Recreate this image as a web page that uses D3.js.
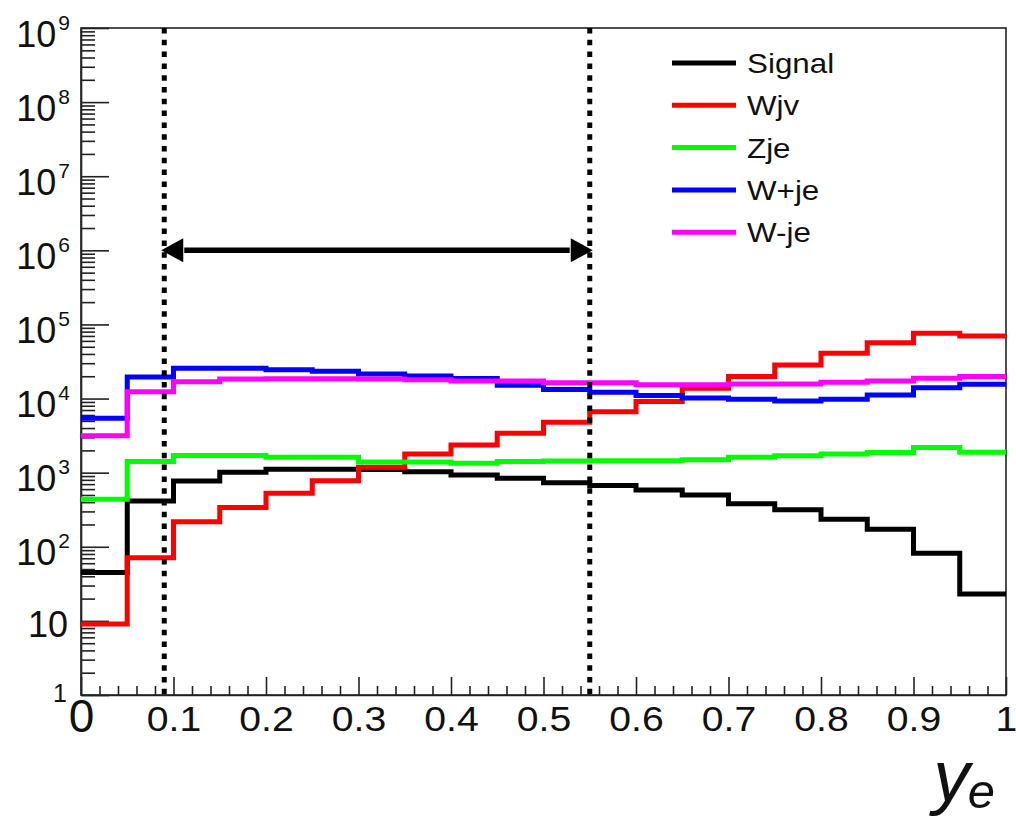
<!DOCTYPE html>
<html>
<head>
<meta charset="utf-8">
<script src="https://cdn.jsdelivr.net/npm/d3@7"></script>
<style>
  html, body { margin: 0; padding: 0; background: #fff; }
  svg { display: block; font-family: "Liberation Sans", Arial, sans-serif; }
</style>
</head>
<body>
<svg id="chart" width="1016" height="820"></svg>
<script>
// Binning of the electron rapidity-like variable y_e: 20 bins between 0 and 1
const xMin = 0, xMax = 1, binWidth = 0.05, nBins = 20;

// Event counts per bin for each sample
const signal = [45, 415, 770, 1010, 1110, 1110, 1100, 1030, 930, 840, 730, 670, 585, 500, 380, 315, 235, 172, 82, 23];
const wjv    = [9.1, 71, 218, 340, 528, 780, 1180, 1780, 2370, 3400, 4800, 6650, 9100, 13800, 19800, 28400, 40800, 56800, 76000, 70000];
const zje    = [438, 1410, 1700, 1700, 1610, 1610, 1395, 1395, 1340, 1420, 1440, 1450, 1450, 1490, 1620, 1697, 1790, 1870, 2190, 1885];
const wPlusJe  = [5420, 19500, 25600, 25600, 24500, 23400, 21500, 20200, 18600, 15100, 13300, 12200, 11000, 10200, 9800, 9300, 9800, 11200, 14000, 15600];
const wMinusJe = [3160, 12400, 16900, 18400, 18500, 18500, 18400, 18000, 17300, 17300, 16400, 16400, 15400, 15400, 15700, 15700, 16600, 17300, 18800, 19800];

const seriesNames  = ["Signal", "Wjv", "Zje", "W+je", "W-je"];
const seriesColors = ["#000000", "#ff0000", "#00ff00", "#0000ff", "#ff00ff"];

// Selection window and the level of the double arrow marking it
const cutLow = 0.09, cutHigh = 0.55;
const arrowLevel = 1e6;

// Axis ticks
const xTickValues = [0, 0.1, 0.2, 0.3, 0.4, 0.5, 0.6, 0.7, 0.8, 0.9, 1];
const xTickLabels = ["0", "0.1", "0.2", "0.3", "0.4", "0.5", "0.6", "0.7", "0.8", "0.9", "1"];
const yDecadeExponents = [0, 1, 2, 3, 4, 5, 6, 7, 8, 9];

const svg = d3.select("#chart");
const plotLeft = 81, plotRight = 1006, plotTop = 28, plotBottom = 695;

const x = d3.scaleLinear().domain([xMin, xMax]).range([plotLeft, plotRight]);
const y = d3.scaleLog().domain([1, 1e9]).range([plotBottom, plotTop]);

svg.append("rect").attr("width", 1016).attr("height", 820).attr("fill", "#fff");

// Frame
svg.append("rect")
  .attr("x", plotLeft).attr("y", plotTop)
  .attr("width", plotRight - plotLeft).attr("height", plotBottom - plotTop)
  .attr("fill", "none").attr("stroke", "#222").attr("stroke-width", 1.6);

// ---- X axis: minor ticks every 0.02, major every 0.1 ----
const xMinor = d3.range(0, 51).map(i => i / 50).filter(v => Math.round(v * 50) % 5 !== 0);
svg.append("g")
  .attr("transform", `translate(0,${plotBottom})`)
  .call(d3.axisBottom(x).tickValues(xMinor).tickSize(-9).tickSizeOuter(0).tickFormat(""))
  .call(g => g.select(".domain").remove())
  .call(g => g.selectAll("line").attr("stroke", "#222").attr("stroke-width", 1.6));

const xAxisG = svg.append("g")
  .attr("transform", `translate(0,${plotBottom})`)
  .call(d3.axisBottom(x).tickValues(xTickValues).tickSize(-18).tickSizeOuter(0).tickPadding(11)
    .tickFormat((d, i) => xTickLabels[i]))
  .call(g => g.select(".domain").attr("stroke", "#222").attr("stroke-width", 1.6))
  .call(g => g.selectAll("line").attr("stroke", "#222").attr("stroke-width", 1.6))
  .call(g => g.selectAll("text").attr("font-size", 35).attr("fill", "#111")
    .attr("transform", "scale(1.12,1)")
    .attr("font-family", "Liberation Sans, Arial, sans-serif"));
// the origin label is drawn larger
xAxisG.selectAll("text").filter(d => d === 0).attr("font-size", 46).attr("y", 4).attr("transform", null);

// ---- Y axis (log): minor ticks 2..9 per decade, major ticks at each decade ----
const yMinor = [];
for (let e = 0; e < 9; e++) for (let k = 2; k <= 9; k++) yMinor.push(k * Math.pow(10, e));
svg.append("g")
  .attr("transform", `translate(${plotLeft},0)`)
  .call(d3.axisLeft(y).tickValues(yMinor).tickSize(-14).tickSizeOuter(0).tickFormat(""))
  .call(g => g.select(".domain").remove())
  .call(g => g.selectAll("line").attr("stroke", "#222").attr("stroke-width", 1.6));

const yAxisG = svg.append("g")
  .attr("transform", `translate(${plotLeft},0)`)
  .call(d3.axisLeft(y).tickValues(yDecadeExponents.map(e => Math.pow(10, e)))
    .tickSize(-28).tickSizeOuter(0).tickPadding(11).tickFormat(""))
  .call(g => g.select(".domain").attr("stroke", "#222").attr("stroke-width", 1.6))
  .call(g => g.selectAll("line").attr("stroke", "#222").attr("stroke-width", 1.6));

yAxisG.selectAll(".tick text").each(function(d) {
  const e = Math.round(Math.log10(d));
  const t = d3.select(this)
    .attr("fill", "#111").attr("font-size", 36).attr("dy", "0.5em")
    .attr("font-family", "Liberation Sans, Arial, sans-serif");
  if (e === 0) {
    t.text("1").attr("font-size", 25).attr("dy", 6).attr("x", -14);
  } else if (e === 1) {
    t.text("10").attr("x", -13).attr("dy", 16);
  } else {
    t.text(null);
    t.append("tspan").text("10");
    t.append("tspan").attr("font-size", 21).attr("dy", -17).attr("dx", 2).text(String(e));
  }
});

// ---- Histograms drawn as step outlines ----
const edges = d3.range(0, nBins + 1).map(i => xMin + i * binWidth);
const stepLine = d3.line()
  .x(d => x(d[0]))
  .y(d => y(d[1]))
  .curve(d3.curveStepAfter);

const allSeries = [signal, wjv, zje, wPlusJe, wMinusJe];
allSeries.forEach((vals, si) => {
  const pts = edges.map((e, i) => [e, vals[Math.min(i, nBins - 1)]]);
  svg.append("path")
    .datum(pts)
    .attr("d", stepLine)
    .attr("fill", "none")
    .attr("stroke", seriesColors[si])
    .attr("stroke-width", 5)
    .attr("stroke-linejoin", "miter")
    .attr("stroke-linecap", "butt");
});

// ---- Selection cuts: dashed verticals and double arrow ----
[cutLow, cutHigh].forEach(c => {
  svg.append("line")
    .attr("x1", x(c)).attr("x2", x(c))
    .attr("y1", y(1e9)).attr("y2", y(1))
    .attr("stroke", "#000").attr("stroke-width", 5)
    .attr("stroke-dasharray", "5.5,6.3");
});

const ay = y(arrowLevel);
const headLen = 22, headHalf = 12;
svg.append("line")
  .attr("x1", x(cutLow) + headLen - 2).attr("x2", x(cutHigh) - headLen + 2)
  .attr("y1", ay).attr("y2", ay)
  .attr("stroke", "#000").attr("stroke-width", 5.5);
svg.append("path")
  .attr("d", `M${x(cutLow) - 3},${ay} L${x(cutLow) - 3 + headLen},${ay - headHalf} L${x(cutLow) - 3 + headLen},${ay + headHalf} Z`)
  .attr("fill", "#000");
svg.append("path")
  .attr("d", `M${x(cutHigh) + 3},${ay} L${x(cutHigh) + 3 - headLen},${ay - headHalf} L${x(cutHigh) + 3 - headLen},${ay + headHalf} Z`)
  .attr("fill", "#000");

// ---- Legend ----
const legend = svg.append("g").attr("transform", "translate(672,63)");
seriesNames.forEach((name, i) => {
  const row = legend.append("g").attr("transform", `translate(0,${i * 42.3})`);
  row.append("line")
    .attr("x1", 0).attr("x2", 64).attr("y1", 0).attr("y2", 0)
    .attr("stroke", seriesColors[i]).attr("stroke-width", 5);
  row.append("text")
    .attr("transform", "translate(75,10) scale(1.12,1)")
    .attr("font-size", 28).attr("fill", "#111")
    .text(name);
});

// ---- Axis title ----
const title = svg.append("text")
  .attr("x", 995).attr("y", 801)
  .attr("text-anchor", "end")
  .attr("font-style", "italic")
  .attr("fill", "#111");
title.append("tspan").attr("font-size", 73).text("y");
title.append("tspan").attr("font-size", 49).attr("dy", 7).attr("dx", -2).text("e");
</script>
</body>
</html>
